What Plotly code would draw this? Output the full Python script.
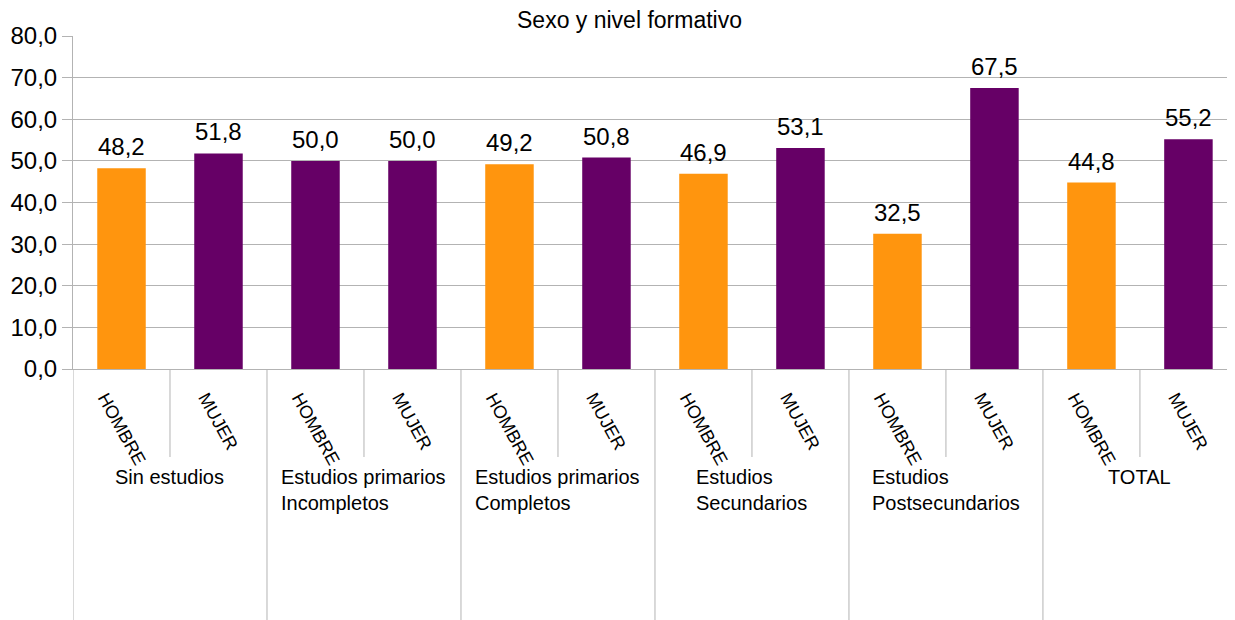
import plotly.graph_objects as go

# Data
groups = ["Sin estudios", "Estudios primarios<br>Incompletos", "Estudios primarios<br>Completos",
          "Estudios<br>Secundarios", "Estudios<br>Postsecundarios", "TOTAL"]
sexes = ["HOMBRE", "MUJER"]
values = [48.2, 51.8, 50.0, 50.0, 49.2, 50.8, 46.9, 53.1, 32.5, 67.5, 44.8, 55.2]
bar_colors = ["#FF950E", "#660066", "#660066", "#660066", "#FF950E", "#660066",
              "#FF950E", "#660066", "#FF950E", "#660066", "#FF950E", "#660066"]
y_ticks = [0, 10, 20, 30, 40, 50, 60, 70, 80]

# page body has an 8px margin, so the figure is sized to fit the 1235x620 window
W, H = 1227, 612
m_t, m_b, m_l, m_r = 28, 251, 65, 0
plot_h = H - m_t - m_b
def py(px_below):
    return -px_below / plot_h

n = len(values)
xs = list(range(n))
labels = [sexes[i % 2] for i in range(n)]

fig = go.Figure()
fig.add_trace(go.Bar(
    x=xs, y=values, marker=dict(color=bar_colors, line=dict(width=0)),
    width=0.5, showlegend=False, hoverinfo="skip"))

gray = "#b3b3b3"
shapes = []
for i in range(n):
    xb = i - 0.5
    bottom = py(H - m_t - plot_h) if i % 2 == 0 else py(88)
    shapes.append(dict(type="line", xref="x", yref="paper", x0=xb, x1=xb,
                       y0=0, y1=bottom, line=dict(color=gray, width=1)))

annotations = []
for i, v in enumerate(values):
    annotations.append(dict(x=i, y=v, xref="x", yref="y", text=f"{v:.1f}".replace(".", ","),
                            showarrow=False, xanchor="center", yanchor="bottom", yshift=6,
                            font=dict(size=24, color="#000000", family="Liberation Sans")))
for i in range(n):
    annotations.append(dict(x=i, y=py(18), xref="x", yref="paper", text=labels[i],
                            showarrow=False, textangle=61, xanchor="center", yanchor="top",
                            font=dict(size=18, color="#000000", family="Liberation Sans")))
for g, name in enumerate(groups):
    annotations.append(dict(x=2 * g + 0.5, y=py(95), xref="x", yref="paper", text=name,
                            showarrow=False, xanchor="center", yanchor="top", align="left",
                            font=dict(size=20, color="#000000", family="Liberation Sans")))

fig.update_layout(
    width=W, height=H,
    margin=dict(t=m_t, b=m_b, l=m_l, r=m_r, pad=0),
    paper_bgcolor="white", plot_bgcolor="white",
    separators=",.",
    title=dict(text="Sexo y nivel formativo", x=0.5 + 8 / W, xref="container",
               y=1 - 12 / H, yref="container", xanchor="center", yanchor="middle",
               font=dict(size=23, color="#000000", family="Liberation Sans")),
    xaxis=dict(range=[-0.5, 11.48], showticklabels=False, showgrid=False, zeroline=False,
               showline=True, linecolor=gray, linewidth=1, ticks=""),
    yaxis=dict(range=[0, 80], tickvals=y_ticks, tickformat=".1f", showgrid=True,
               gridcolor=gray, gridwidth=1, zeroline=False, showline=True, linecolor=gray,
               linewidth=1, ticks="outside", ticklen=10, tickcolor=gray,
               tickfont=dict(size=24, color="#000000", family="Liberation Sans")),
    shapes=shapes, annotations=annotations,
    font=dict(family="Liberation Sans"),
)

fig.write_html("out.html")
